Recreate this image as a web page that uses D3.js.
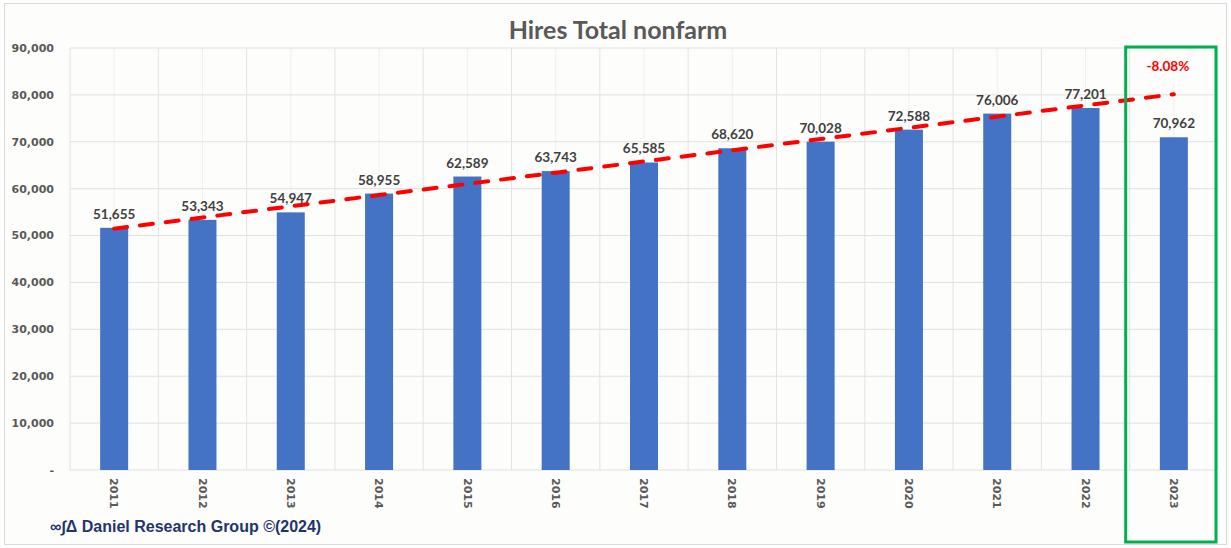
<!DOCTYPE html>
<html>
<head>
<meta charset="utf-8">
<script src="https://cdn.jsdelivr.net/npm/d3@7"></script>
<style>
  body { margin: 0; background: #ffffff; }
</style>
</head>
<body>
<div id="chart"></div>
<script>
// Years and hires (thousands)
const years = ["2011", "2012", "2013", "2014", "2015", "2016", "2017", "2018", "2019", "2020", "2021", "2022", "2023"];
const hires = [51655, 53343, 54947, 58955, 62589, 63743, 65585, 68620, 70028, 72588, 76006, 77201, 70962];
const yTicks = [0, 10000, 20000, 30000, 40000, 50000, 60000, 70000, 80000, 90000];
const changeLabel = "-8.08%";

const width = 1231, height = 548;
const margin = { top: 48, right: 13, bottom: 78, left: 70 };

const svg = d3.select("#chart")
  .append("svg")
  .attr("width", width)
  .attr("height", height);

// Background + border
svg.append("rect")
  .attr("x", 4.5).attr("y", 3.5)
  .attr("width", width - 9).attr("height", height - 7)
  .attr("fill", "#fdfdfb")
  .attr("stroke", "#d9d9d9");

const x = d3.scaleBand()
  .domain(years)
  .range([margin.left, width - margin.right])
  .padding(0);

const y = d3.scaleLinear()
  .domain([0, 90000])
  .range([height - margin.bottom, margin.top]);

const barW = 28;

// Vertical gridlines: category boundaries and centres
years.forEach(yr => {
  svg.append("line")
    .attr("x1", x(yr) + x.bandwidth() / 2).attr("x2", x(yr) + x.bandwidth() / 2)
    .attr("y1", y(90000)).attr("y2", y(0))
    .attr("stroke", "#efefef");
  svg.append("line")
    .attr("x1", x(yr) + x.bandwidth()).attr("x2", x(yr) + x.bandwidth())
    .attr("y1", y(90000)).attr("y2", y(0))
    .attr("stroke", "#e3e3e3");
});

// Horizontal gridlines
yTicks.forEach(t => {
  svg.append("line")
    .attr("x1", margin.left).attr("x2", width - margin.right)
    .attr("y1", y(t)).attr("y2", y(t))
    .attr("stroke", "#e0e0e0");
});
svg.append("line")
  .attr("x1", margin.left).attr("x2", margin.left)
  .attr("y1", y(90000)).attr("y2", y(0))
  .attr("stroke", "#e0e0e0");

// Y axis labels
const fmt = d3.format(",");
svg.selectAll(".ytick")
  .data(yTicks)
  .enter().append("text")
  .attr("x", 54)
  .attr("y", d => y(d))
  .attr("dy", "0.35em")
  .attr("text-anchor", "end")
  .attr("font-family", "DejaVu Sans, sans-serif")
  .attr("font-size", "11px")
  .attr("font-weight", "bold")
  .attr("fill", "#595959")
  .text(d => d === 0 ? "-" : fmt(d));

// Bars
svg.selectAll(".bar")
  .data(hires)
  .enter().append("rect")
  .attr("x", (d, i) => x(years[i]) + x.bandwidth() / 2 - barW / 2)
  .attr("y", d => y(d))
  .attr("width", barW)
  .attr("height", d => y(0) - y(d))
  .attr("fill", "#4472c4");

// Value labels
svg.selectAll(".vlabel")
  .data(hires)
  .enter().append("text")
  .attr("x", (d, i) => x(years[i]) + x.bandwidth() / 2)
  .attr("y", d => y(d) - 9)
  .attr("text-anchor", "middle")
  .attr("font-family", "Lato, sans-serif")
  .attr("font-size", "13.5px")
  .attr("font-weight", "bold")
  .attr("fill", "#404040")
  .text(d => fmt(d));

// Linear trend fitted on 2011-2022, extended to 2023
const fitN = hires.length - 1;
const xs = d3.range(fitN);
const mx = d3.mean(xs), my = d3.mean(hires.slice(0, fitN));
const slope = d3.sum(xs, i => (i - mx) * (hires[i] - my)) / d3.sum(xs, i => (i - mx) * (i - mx));
const icpt = my - slope * mx;
const trend = years.map((yr, i) => [x(yr) + x.bandwidth() / 2, y(icpt + slope * i)]);

svg.append("path")
  .attr("d", d3.line()(trend))
  .attr("fill", "none")
  .attr("stroke", "#ff0000")
  .attr("stroke-width", 4)
  .attr("stroke-linecap", "round")
  .attr("stroke-dasharray", "13,13");

// Year labels (rotated)
svg.selectAll(".xlabel")
  .data(years)
  .enter().append("text")
  .attr("transform", d => `translate(${x(d) + x.bandwidth() / 2},${y(0) + 8}) rotate(90)`)
  .attr("dy", "0.35em")
  .attr("font-family", "DejaVu Sans, sans-serif")
  .attr("font-size", "11px")
  .attr("font-weight", "bold")
  .attr("fill", "#595959")
  .text(d => d);

// Highlight box around the last year
const last = years[years.length - 1];
svg.append("rect")
  .attr("x", x(last) + 1).attr("y", 49)
  .attr("width", x.bandwidth() - 4).attr("height", 33)
  .attr("fill", "#fdfdfb");
svg.append("text")
  .attr("x", x(last) + x.bandwidth() / 2 - 6)
  .attr("y", 71)
  .attr("text-anchor", "middle")
  .attr("font-family", "Lato, sans-serif")
  .attr("font-size", "13.5px")
  .attr("font-weight", "bold")
  .attr("fill", "#ff0000")
  .text(changeLabel);
svg.append("rect")
  .attr("x", x(last) - 4).attr("y", 47)
  .attr("width", x.bandwidth() + 2).attr("height", 495)
  .attr("fill", "none")
  .attr("stroke", "#00b050")
  .attr("stroke-width", 3);

// Title
svg.append("text")
  .attr("x", 618).attr("y", 39)
  .attr("text-anchor", "middle")
  .attr("font-family", "Lato, sans-serif")
  .attr("font-size", "25px")
  .attr("font-weight", "bold")
  .attr("fill", "#595959")
  .text("Hires Total nonfarm");

// Footer
svg.append("text")
  .attr("x", 50).attr("y", 532)
  .attr("font-family", "Liberation Sans, Arial, sans-serif")
  .attr("font-size", "16px")
  .attr("font-weight", "bold")
  .attr("fill", "#1f3470")
  .text("∞∫Δ Daniel Research Group ©(2024)");
</script>
</body>
</html>
